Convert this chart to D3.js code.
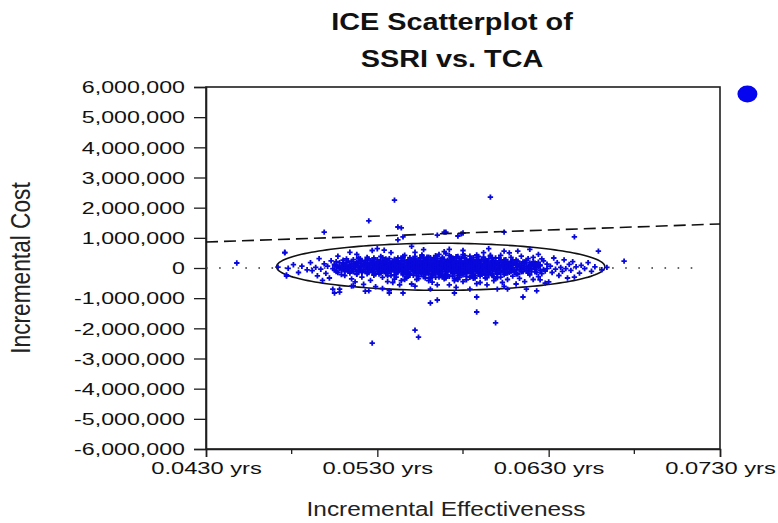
<!DOCTYPE html>
<html>
<head>
<meta charset="utf-8">
<script src="https://cdn.jsdelivr.net/npm/d3@7"></script>
<style>
  body { margin: 0; background: #fff; }
  svg { display: block; }
</style>
</head>
<body>
<svg id="chart" width="778" height="523"></svg>
<script>
// ---- chart text ----
const titleLines = ["ICE Scatterplot of", "SSRI vs. TCA"];
const xTitle = "Incremental Effectiveness";
const yTitle = "Incremental Cost";

// ---- axes ----
const xMajorTicks = [0.043, 0.053, 0.063, 0.073];
const xMinorTicks = [0.048, 0.058, 0.068];
const xTickLabels = ["0.0430 yrs", "0.0530 yrs", "0.0630 yrs", "0.0730 yrs"];
const yTicks = [6e6, 5e6, 4e6, 3e6, 2e6, 1e6, 0, -1e6, -2e6, -3e6, -4e6, -5e6, -6e6];
const yTickLabels = ["6,000,000", "5,000,000", "4,000,000", "3,000,000", "2,000,000", "1,000,000", "0",
  "-1,000,000", "-2,000,000", "-3,000,000", "-4,000,000", "-5,000,000", "-6,000,000"];

// ---- reference lines ----
const wtpPerYear = 20000000;          // threshold line through the origin ($ per year gained)
const zeroLineEnd = 0.0718;           // dotted zero-cost line runs from the y axis to here
const ellipse = { cx: 0.0567, cy: 40000, rx: 0.00958, ry: 780000 };   // confidence ellipse
const meanPoint = [0.0746, 5770000];

// ---- simulated replicates: [incremental effectiveness (yrs), incremental cost ($ thousands)] ----
const cloudPoints = [
 [.0472,30],[.0476,520],[.0477,-230],[.0478,-10],[.0481,110],[.0484,-150],[.0486,60],[.0489,-60],
 [.0491,180],[.0492,-90],[.0494,20],[.0495,-260],[.0496,310],[.0497,-40],[.0499,140],[.0500,-180],[.0501,60],[.0502,-330],
 [.0503,240],[.0504,-20],[.0505,100],[.0506,-120],[.0507,390],[.0508,-700],[.0508,30],[.0509,-60],[.0505,-830],[.0498,-410],
 [.0510,170],[.0511,-250],[.0512,40],[.0512,300],[.0513,-110],[.0514,80],[.0515,-360],[.0515,220],[.0516,-20],[.0517,130],
 [.0518,-190],[.0518,450],[.0519,10],[.0520,-80],[.0520,260],[.0521,-300],[.0522,90],[.0522,-540],[.0523,190],[.0524,-30],
 [.0524,350],[.0525,-150],[.0525,60],[.0526,-410],[.0526,150],[.0527,-70],[.0527,580],[.0528,20],[.0528,-240],[.0529,110],
 [.0529,-620],[.0523,-770],[.0514,520],[.0517,-460],[.0521,-130],[.0519,330],[.0526,-10],[.0528,270],[.0511,-30],[.0516,-590],
 [.0530,-40],[.0530,210],[.0531,-200],[.0531,70],[.0532,380],[.0532,-90],[.0533,140],[.0533,-310],[.0534,0],[.0534,260],
 [.0535,-140],[.0535,90],[.0536,-450],[.0536,30],[.0537,180],[.0537,-60],[.0538,-250],[.0538,510],[.0539,110],[.0539,-20],
 [.0540,-370],[.0540,200],[.0541,50],[.0541,-160],[.0542,330],[.0542,-80],[.0543,-560],[.0543,120],[.0544,-10],[.0544,240],
 [.0545,-230],[.0545,70],[.0546,420],[.0546,-120],[.0547,10],[.0547,-330],[.0548,160],[.0548,-50],[.0549,280],[.0549,-190],
 [.0530,640],[.0533,-680],[.0536,-260],[.0538,60],[.0540,-90],[.0542,150],[.0544,-420],[.0546,-30],[.0548,90],[.0531,-120],
 [.0535,300],[.0539,-480],[.0541,-300],[.0543,20],[.0545,350],[.0547,-210],[.0549,40],[.0537,-750],[.0534,590],[.0532,-10],
 [.0540,80],[.0544,130],[.0546,-380],[.0548,-140],[.0550,720],
 [.0550,-60],[.0550,180],[.0551,-240],[.0551,40],[.0552,310],[.0552,-130],[.0553,90],[.0553,-20],[.0554,-350],[.0554,220],
 [.0555,60],[.0555,-170],[.0556,400],[.0556,-70],[.0557,130],[.0557,-290],[.0558,10],[.0558,260],[.0559,-110],[.0559,80],
 [.0560,-420],[.0560,170],[.0561,-30],[.0561,340],[.0562,-200],[.0562,50],[.0563,120],[.0563,-80],[.0564,-310],[.0564,240],
 [.0565,20],[.0565,-150],[.0566,450],[.0566,-40],[.0567,100],[.0567,-260],[.0568,190],[.0568,-10],[.0569,-360],[.0569,70],
 [.0550,-530],[.0552,520],[.0554,-20],[.0556,110],[.0558,-220],[.0560,30],[.0562,-470],[.0564,90],[.0566,-120],[.0568,300],
 [.0551,150],[.0553,-380],[.0555,240],[.0557,-50],[.0559,360],[.0561,-310],[.0563,-20],[.0565,200],[.0567,-80],[.0569,140],
 [.0552,-600],[.0557,610],[.0561,-700],[.0565,-560],[.0569,540],[.0554,40],[.0556,-190],[.0558,130],[.0560,-100],[.0562,270],
 [.0564,-40],[.0566,160],[.0568,-290],[.0551,-70],[.0553,190],[.0555,-100],[.0559,-160],[.0563,330],[.0567,30],[.0550,80],
 [.0558,-40],[.0562,110],[.0566,-230],[.0570,60],[.0555,10],
 [.0570,-130],[.0571,210],[.0571,-50],[.0572,100],[.0572,-280],[.0573,20],[.0573,370],[.0574,-190],[.0574,60],[.0575,-20],
 [.0575,250],[.0576,-360],[.0576,140],[.0577,-90],[.0577,30],[.0578,300],[.0578,-210],[.0579,80],[.0579,-40],[.0580,-450],
 [.0580,180],[.0581,-10],[.0581,410],[.0582,-150],[.0582,70],[.0583,230],[.0583,-80],[.0584,-310],[.0584,120],[.0585,10],
 [.0585,-180],[.0586,340],[.0586,-60],[.0587,160],[.0587,-260],[.0588,40],[.0588,-120],[.0589,270],[.0589,-20],[.0570,480],
 [.0572,-560],[.0574,-30],[.0576,90],[.0578,-100],[.0580,20],[.0582,-390],[.0584,290],[.0586,-130],[.0588,190],[.0571,-230],
 [.0573,150],[.0575,-420],[.0577,380],[.0579,-160],[.0581,90],[.0583,-40],[.0585,220],[.0587,-330],[.0589,70],[.0572,620],
 [.0576,-640],[.0580,580],[.0584,-700],[.0588,-520],[.0573,-110],[.0575,120],[.0577,-240],[.0579,200],[.0581,-70],[.0583,40],
 [.0585,-280],[.0587,100],[.0589,-190],[.0570,0],[.0574,330],[.0578,50],[.0582,-20],[.0586,200],[.0590,-90],[.0576,-10],
 [.0580,-230],[.0584,-50],[.0588,350],[.0575,-350],
 [.0590,140],[.0591,-210],[.0591,50],[.0592,290],[.0592,-60],[.0593,100],[.0593,-330],[.0594,-10],[.0594,200],[.0595,-150],
 [.0595,60],[.0596,390],[.0596,-90],[.0597,150],[.0597,-250],[.0598,20],[.0598,-420],[.0599,240],[.0599,-40],[.0600,110],
 [.0600,-180],[.0601,-20],[.0601,330],[.0602,-300],[.0602,70],[.0603,180],[.0603,-100],[.0604,10],[.0604,-220],[.0605,280],
 [.0605,-50],[.0606,120],[.0606,-380],[.0607,40],[.0607,-140],[.0608,210],[.0608,-30],[.0609,-270],[.0609,90],[.0590,-480],
 [.0592,510],[.0594,-560],[.0596,30],[.0598,170],[.0600,-70],[.0602,420],[.0604,-610],[.0606,-170],[.0608,350],[.0591,-120],
 [.0593,260],[.0595,-40],[.0597,70],[.0599,-350],[.0601,190],[.0603,-480],[.0605,100],[.0607,500],[.0609,-80],[.0595,640],
 [.0600,-700],[.0604,560],[.0606,-40],[.0610,-130],[.0597,-10],
 [.0610,150],[.0611,-60],[.0611,270],[.0612,-200],[.0613,80],[.0613,-340],[.0614,0],[.0614,390],[.0615,-120],[.0616,200],
 [.0616,-450],[.0617,50],[.0618,-80],[.0618,310],[.0619,-230],[.0620,110],[.0620,-30],[.0621,-380],[.0622,160],[.0622,-130],
 [.0623,20],[.0624,-290],[.0624,450],[.0625,70],[.0626,-190],[.0627,240],[.0627,-50],[.0628,-500],[.0629,130],[.0629,-20],
 [.0612,560],[.0617,-700],[.0619,620],[.0621,350],[.0625,-390],[.0626,300],[.0628,-100],[.0611,-530],
 [.0630,-460],[.0631,60],[.0632,-150],[.0633,330],[.0634,-40],[.0635,180],[.0636,-250],[.0637,20],[.0638,-110],[.0639,270],
 [.0640,-20],[.0641,-330],[.0642,120],[.0643,-80],[.0644,210],[.0645,-300],[.0646,40],[.0648,-170],[.0649,90],
 [.0651,-20],[.0653,180],[.0655,-110],[.0657,40],[.0659,560],[.0661,-60],[.0664,20],[.0674,230]
];

// dense central band of replicates, same units
const corePoints = [
 [.0505,120],[.0505,-70],[.0506,40],[.0506,210],[.0507,-150],[.0507,60],[.0508,180],[.0508,-30],[.0509,90],[.0509,-220],
 [.0510,-10],[.0510,260],[.0510,20],[.0511,130],[.0511,-120],[.0512,-60],[.0512,190],[.0512,70],[.0513,230],[.0513,-20],
 [.0514,-170],[.0514,110],[.0514,0],[.0515,60],[.0515,-80],[.0516,150],[.0516,280],[.0516,-130],[.0517,-40],[.0517,40],
 [.0518,100],[.0518,-210],[.0518,200],[.0519,-100],[.0519,160],[.0520,50],[.0520,-30],[.0520,310],[.0521,220],[.0521,-150],
 [.0521,80],[.0522,-60],[.0522,130],[.0523,30],[.0523,250],[.0523,-110],[.0524,170],[.0524,-190],[.0524,60],[.0525,-20],
 [.0525,300],[.0525,110],[.0526,240],[.0526,-80],[.0526,10],[.0527,-140],[.0527,90],[.0527,190],[.0528,150],[.0528,-50],
 [.0528,330],[.0529,60],[.0529,-200],[.0529,0],[.0530,120],[.0530,280],[.0530,-110],[.0531,-30],[.0531,180],[.0531,40],
 [.0532,90],[.0532,-170],[.0532,230],[.0533,20],[.0533,340],[.0533,-60],[.0534,-130],[.0534,110],[.0534,170],[.0535,200],
 [.0535,-40],[.0535,20],[.0536,260],[.0536,-190],[.0536,80],[.0537,0],[.0537,130],[.0537,-90],[.0537,310],[.0538,170],
 [.0538,-120],[.0538,40],[.0539,-60],[.0539,230],[.0539,90],[.0540,140],[.0540,-10],[.0540,-230],[.0540,290],[.0541,210],
 [.0541,-70],[.0541,100],[.0542,30],[.0542,-150],[.0542,250],[.0543,-40],[.0543,180],[.0543,70],[.0544,320],[.0544,-100],
 [.0544,50],[.0545,150],[.0545,-20],[.0545,-180],[.0546,90],[.0546,240],[.0546,-60],[.0547,190],[.0547,-130],[.0547,30],
 [.0548,-10],[.0548,270],[.0548,120],[.0549,60],[.0549,-240],[.0549,190],[.0550,230],[.0550,-30],[.0550,110],[.0551,10],
 [.0551,160],[.0551,-120],[.0551,300],[.0552,-60],[.0552,80],[.0552,200],[.0553,140],[.0553,-170],[.0553,260],[.0554,90],
 [.0554,-90],[.0554,180],[.0555,-20],[.0555,330],[.0555,120],[.0556,200],[.0556,-130],[.0556,30],[.0557,70],[.0557,250],
 [.0557,-80],[.0558,-160],[.0558,120],[.0558,40],[.0559,190],[.0559,-30],[.0559,280],[.0560,100],[.0560,-200],[.0560,60],
 [.0561,150],[.0561,-70],[.0561,240],[.0562,-20],[.0562,180],[.0562,-130],[.0563,270],[.0563,40],[.0563,-60],[.0564,130],
 [.0564,-150],[.0564,20],[.0565,90],[.0565,310],[.0565,-30],[.0566,-90],[.0566,200],[.0566,60],[.0567,240],[.0567,-180],
 [.0567,150],[.0568,10],[.0568,110],[.0568,-120],[.0569,290],[.0569,-40],[.0569,180],[.0570,120],[.0570,-210],[.0570,70],
 [.0571,30],[.0571,260],[.0571,-90],[.0572,190],[.0572,-20],[.0572,110],[.0573,-130],[.0573,220],[.0573,60],[.0574,160],
 [.0574,-60],[.0574,300],[.0575,90],[.0575,-170],[.0575,20],[.0576,240],[.0576,40],[.0576,-110],[.0577,-30],[.0577,180],
 [.0577,130],[.0578,110],[.0578,-140],[.0578,230],[.0579,320],[.0579,10],[.0579,-70],[.0580,150],[.0580,-100],[.0580,80],
 [.0581,-40],[.0581,200],[.0581,30],[.0582,260],[.0582,-190],[.0582,120],[.0583,60],[.0583,150],[.0583,-60],[.0584,-120],
 [.0584,220],[.0584,10],[.0585,190],[.0585,-50],[.0585,290],[.0586,100],[.0586,-230],[.0586,40],[.0587,210],[.0587,-10],
 [.0587,150],[.0588,-80],[.0588,120],[.0588,260],[.0589,160],[.0589,-160],[.0589,30],[.0590,50],[.0590,230],[.0590,-100],
 [.0591,280],[.0591,-40],[.0591,130],[.0592,120],[.0592,-180],[.0592,20],[.0593,-60],[.0593,190],[.0593,80],[.0594,230],
 [.0594,-130],[.0594,160],[.0595,20],[.0595,300],[.0595,-90],[.0596,170],[.0596,-20],[.0596,100],[.0597,240],[.0597,-170],
 [.0597,50],[.0598,-50],[.0598,130],[.0598,210],[.0599,90],[.0599,-110],[.0599,330],[.0600,170],[.0600,20],[.0600,-200],
 [.0601,110],[.0601,-60],[.0602,250],[.0602,-150],[.0602,40],[.0603,60],[.0603,190],[.0604,-90],[.0604,140],[.0604,270],
 [.0605,30],[.0605,-180],[.0606,200],[.0606,80],[.0607,-40],[.0607,160],[.0608,120],[.0608,-120],[.0609,260],[.0609,10],
 [.0610,-70],[.0610,180],[.0611,100],[.0611,-200],[.0612,40],[.0612,230],[.0613,150],[.0613,-60],[.0614,-130],[.0614,90],
 [.0615,200],[.0615,20],[.0616,-30],[.0616,140],[.0617,250],[.0617,-90],[.0618,60],[.0618,-170],[.0619,170],[.0619,10],
 [.0620,-110],[.0620,120],[.0621,60],[.0621,210],[.0622,-40],[.0622,90],[.0623,140],[.0623,-150],[.0624,30],[.0624,190],
 [.0625,-80],[.0625,100]
];

// thicker middle of the band, same units
const centerPoints = [
 [.0552,380],[.0554,-280],[.0556,430],[.0558,-330],[.0560,360],[.0562,-260],[.0564,410],[.0566,-300],[.0568,350],[.0570,-330],
 [.0572,420],[.0574,-270],[.0576,370],[.0578,-310],[.0580,440],[.0582,-280],[.0584,390],[.0586,-340],[.0588,430],[.0590,-270],
 [.0592,360],[.0594,-320],[.0596,420],[.0598,-290],[.0553,-250],[.0557,330],[.0561,-360],[.0565,380],[.0569,-240],[.0573,300],
 [.0577,-380],[.0581,330],[.0585,-250],[.0589,380],[.0593,-230],[.0597,340],[.0545,380],[.0547,-280],[.0549,340],[.0600,-320],
 [.0555,180],[.0563,-190],[.0571,160],[.0579,-200],[.0587,170],[.0595,-210],[.0559,-10],[.0567,10],[.0575,-40],[.0583,20]
];

const outlierPoints = [
 [.0448,165],[.0499,1190],[.0525,1560],[.0540,2250],[.0527,-2490],[.0552,-2060],[.0554,-2290],[.0588,-1460],
 [.0599,-1820],[.0588,-960],[.0561,-1160],[.0565,-1060],[.0537,-830],[.0545,-830],[.0544,1330],[.0569,1190],
 [.0542,930],[.0604,1190],[.0579,1130],[.0596,2350],[.0615,-960],[.0623,-760],[.0606,-700],[.0575,-830],
 [.0542,1360],[.0545,1030],[.0565,1090],[.0570,1190],[.0577,1060],[.0580,1160],[.0645,1030],
 [.0504,-700],[.0508,-800],[.0515,-600],[.0525,-760],[.0476,500],[.0477,-270]
];

// ---- layout ----
const svg = d3.select("#chart");
const plot = { left: 206, right: 720, top: 87, bottom: 449 };

const x = d3.scaleLinear().domain([0.043, 0.073]).range([plot.left, plot.right]);
const y = d3.scaleLinear().domain([-6e6, 6e6]).range([plot.bottom, plot.top]);

const font = "'Liberation Sans', Arial, Helvetica, sans-serif";
const axisColor = "#1e1e1e";
const pointColor = "#0808dc";

// stretch a text element horizontally by a factor (the chart's lettering is wide)
function widen(sel, k) {
  sel.each(function () {
    const w = this.getComputedTextLength();
    this.setAttribute("textLength", (w * k).toFixed(1));
    this.setAttribute("lengthAdjust", "spacingAndGlyphs");
  });
}

// ---- title ----
const title = svg.append("g")
  .attr("font-family", font).attr("font-weight", "bold").attr("font-size", 24)
  .attr("fill", "#111").attr("text-anchor", "middle");
title.selectAll("text").data(titleLines).join("text")
  .attr("x", 452).attr("y", (d, i) => 30 + i * 37)
  .text(d => d)
  .call(widen, 1.2);

// ---- frame ----
svg.append("rect")
  .attr("x", plot.left).attr("y", plot.top)
  .attr("width", plot.right - plot.left).attr("height", plot.bottom - plot.top)
  .attr("fill", "none").attr("stroke", axisColor).attr("stroke-width", 1.6);

// ---- y axis ----
const yAxis = svg.append("g").attr("transform", `translate(${plot.left},0)`)
  .call(d3.axisLeft(y).tickValues(yTicks).tickSize(12).tickPadding(9)
    .tickFormat((d, i) => yTickLabels[i]));
yAxis.select(".domain").attr("stroke", axisColor).attr("stroke-width", 1.6);
yAxis.selectAll(".tick line").attr("stroke", axisColor).attr("stroke-width", 1.3);
yAxis.selectAll(".tick text")
  .attr("font-family", font).attr("font-size", 16).attr("fill", "#111")
  .attr("dy", "0.36em")
  .call(widen, 1.45);

// ---- x axis ----
const xAxis = svg.append("g").attr("transform", `translate(0,${plot.bottom})`)
  .call(d3.axisBottom(x).tickValues(xMajorTicks).tickSize(8).tickPadding(6)
    .tickFormat((d, i) => xTickLabels[i]));
xAxis.select(".domain").attr("stroke", axisColor).attr("stroke-width", 1.6);
xAxis.selectAll(".tick line").attr("stroke", axisColor).attr("stroke-width", 1.3);
xAxis.selectAll(".tick text")
  .attr("font-family", font).attr("font-size", 16).attr("fill", "#111")
  .call(widen, 1.48);

svg.append("g").selectAll("line").data(xMinorTicks).join("line")
  .attr("x1", d => x(d)).attr("x2", d => x(d))
  .attr("y1", plot.bottom).attr("y2", plot.bottom + 5)
  .attr("stroke", axisColor).attr("stroke-width", 1.3);

// ---- axis titles ----
svg.append("text")
  .attr("x", (plot.left + plot.right) / 2 - 17).attr("y", 516)
  .attr("text-anchor", "middle")
  .attr("font-family", font).attr("font-size", 20).attr("fill", "#222")
  .text(xTitle)
  .call(widen, 1.22);

svg.append("text")
  .attr("transform", `translate(30,${y(0)}) scale(1.3,1) rotate(-90)`)
  .attr("text-anchor", "middle")
  .attr("font-family", font).attr("font-size", 21).attr("fill", "#222")
  .text(yTitle)
  .call(widen, 1.08);

// ---- confidence ellipse ----
const angles = d3.range(0, 361, 2).map(a => a * Math.PI / 180);
svg.append("path")
  .datum(angles)
  .attr("d", d3.line()
    .x(t => x(ellipse.cx + ellipse.rx * Math.cos(t)))
    .y(t => y(ellipse.cy + ellipse.ry * Math.sin(t))))
  .attr("fill", "none").attr("stroke", "#111").attr("stroke-width", 1.6);

// ---- zero-cost dotted line ----
svg.append("line")
  .attr("x1", x(0.043)).attr("x2", x(zeroLineEnd))
  .attr("y1", y(0)).attr("y2", y(0))
  .attr("stroke", "#333").attr("stroke-width", 1.6)
  .attr("stroke-dasharray", "1.6 11.5");

// ---- scatter points ----
const cross = "M-2.7,0H2.7M0,-2.7V2.7";
const pts = svg.append("g").attr("stroke", pointColor).attr("stroke-width", 1.8).attr("fill", "none");
pts.selectAll("path").data(cloudPoints.concat(corePoints, centerPoints, outlierPoints)).join("path")
  .attr("transform", d => `translate(${x(d[0]).toFixed(1)},${y(d[1] * 1000).toFixed(1)})`)
  .attr("d", cross);

// ---- threshold (willingness-to-pay) line ----
svg.append("line")
  .attr("x1", x(0.043)).attr("y1", y(wtpPerYear * 0.043))
  .attr("x2", x(0.073)).attr("y2", y(wtpPerYear * 0.073))
  .attr("stroke", "#111").attr("stroke-width", 1.6)
  .attr("stroke-dasharray", "12 6");

// ---- mean marker ----
svg.append("ellipse")
  .attr("cx", x(meanPoint[0])).attr("cy", y(meanPoint[1]))
  .attr("rx", 10).attr("ry", 8.5)
  .attr("fill", "#0505f0");
</script>
</body>
</html>
